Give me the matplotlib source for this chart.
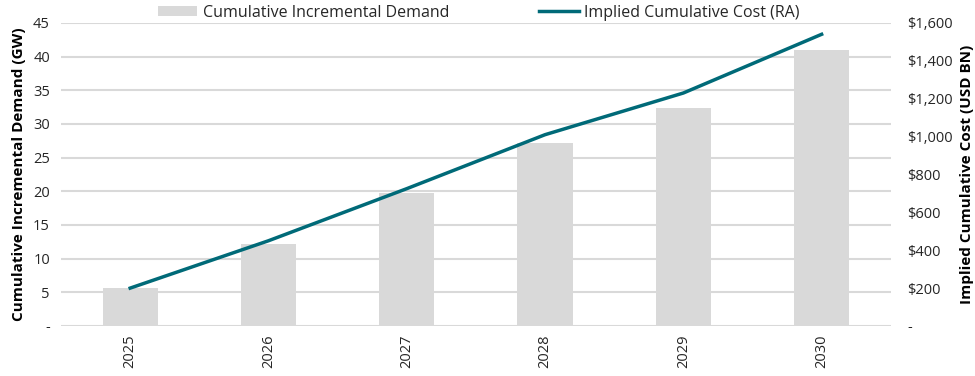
import matplotlib
matplotlib.use("Agg")
import matplotlib.pyplot as plt
from matplotlib.ticker import FuncFormatter
from matplotlib.patches import Patch
from matplotlib.lines import Line2D

years = ["2025", "2026", "2027", "2028", "2029", "2030"]
demand_gw = [5.7, 12.2, 19.8, 27.1, 32.3, 41.0]
cost_usd_bn = [200, 450, 725, 1010, 1230, 1540]

plt.rcParams['font.family'] = ['Open Sans', 'DejaVu Sans']

bar_color = "#d9d9d9"
line_color = "#006a78"
grid_color = "#d9d9d9"
text_color = "#262626"

fig = plt.figure(figsize=(9.75, 3.76), dpi=100)
ax = fig.add_axes([0.0626, 0.133, 0.851, 0.806])
ax2 = ax.twinx()

x = list(range(len(years)))
ax.bar(x, demand_gw, width=0.4, color=bar_color, zorder=2)
ax2.plot(x, cost_usd_bn, color=line_color, lw=2.5, zorder=3)

ax.set_xlim(-0.5, len(years) - 0.5)
ax.set_ylim(0, 45)
ax.set_yticks(range(0, 46, 5))
ax2.set_ylim(0, 1600)
ax2.set_yticks(range(0, 1601, 200))

ax.yaxis.set_major_formatter(FuncFormatter(lambda v, p: "-" if v == 0 else f"{int(v)}"))
ax2.yaxis.set_major_formatter(FuncFormatter(lambda v, p: "-" if v == 0 else f"${int(v):,}"))

ax.set_xticks(x)
ax.set_xticklabels(years, rotation=90)

ax.grid(axis='y', color=grid_color, lw=1.5, zorder=0)
ax.set_axisbelow(True)
for a in (ax, ax2):
    for s in a.spines.values():
        s.set_visible(False)
    a.tick_params(length=0, labelsize=10.5, colors=text_color)
ax.tick_params(axis='y', pad=8)
ax2.tick_params(axis='y', pad=12)
ax.tick_params(axis='x', pad=6)

ax.set_ylabel("Cumulative Incremental Demand (GW)", fontsize=11, fontweight='bold', color='black', labelpad=5)
ax2.set_ylabel("Implied Cumulative Cost (USD BN)", fontsize=11, fontweight='bold', color='black', labelpad=5)

handles = [Patch(facecolor=bar_color, edgecolor='none'),
           Line2D([0], [0], color=line_color, lw=2.5)]
fig.legend(handles, ["Cumulative Incremental Demand", "Implied Cumulative Cost (RA)"],
           loc='center', bbox_to_anchor=(0.491, 0.966), ncol=2, frameon=False,
           fontsize=11.5, handlelength=2.5, handleheight=0.6, columnspacing=5.6, handletextpad=0.35,
           labelcolor=text_color)

fig.savefig("out.png", dpi=100)
